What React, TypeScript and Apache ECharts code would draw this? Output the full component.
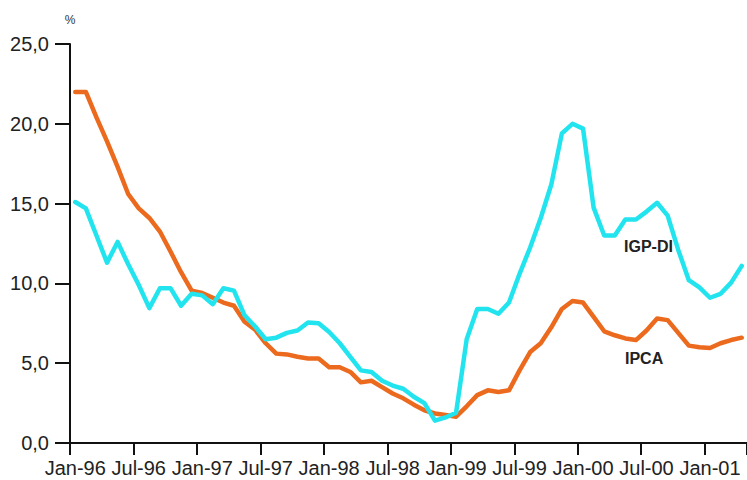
import React, { useEffect, useRef } from 'react';
import * as echarts from 'echarts';

const MONTHS = ['Jan', 'Feb', 'Mar', 'Apr', 'May', 'Jun', 'Jul', 'Aug', 'Sep', 'Oct', 'Nov', 'Dec'];
const YEARS = ['96', '97', '98', '99', '00', '01'];
const N_MONTHS = 64;

const categories: string[] = [];
YEARS.forEach((y) => MONTHS.forEach((m) => categories.push(`${m}-${y}`)));
const CATEGORIES = categories.slice(0, N_MONTHS);

const IPCA = [
  22.0, 22.0, 20.4, 18.9, 17.3, 15.6, 14.7, 14.1, 13.25, 12.0,
  10.7, 9.55, 9.4, 9.1, 8.8, 8.6, 7.6, 7.1, 6.25, 5.6,
  5.55, 5.4, 5.3, 5.3, 4.75, 4.75, 4.45, 3.8, 3.9, 3.5,
  3.1, 2.8, 2.4, 2.05, 1.85, 1.75, 1.65, 2.3, 3.0, 3.3,
  3.2, 3.3, 4.55, 5.7, 6.25, 7.25, 8.4, 8.9, 8.8, 7.9,
  7.0, 6.75, 6.55, 6.45, 7.05, 7.8, 7.7, 6.9, 6.1, 6.0,
  5.95, 6.25, 6.45, 6.6,
];

const IGPDI = [
  15.1, 14.7, 13.0, 11.3, 12.6, 11.2, 9.9, 8.45, 9.7, 9.7,
  8.6, 9.35, 9.25, 8.7, 9.7, 9.55, 8.0, 7.3, 6.5, 6.6,
  6.9, 7.05, 7.55, 7.5, 6.95, 6.25, 5.4, 4.55, 4.45, 3.9,
  3.6, 3.4, 2.9, 2.5, 1.4, 1.6, 1.9, 6.5, 8.4, 8.4,
  8.1, 8.8, 10.6, 12.25, 14.1, 16.2, 19.4, 20.0, 19.7, 14.75,
  13.0, 13.0, 14.0, 14.0, 14.5, 15.05, 14.25, 12.1, 10.2, 9.75,
  9.1, 9.35, 10.05, 11.1,
];

const Y_MIN = 0;
const Y_MAX = 25;
const Y_STEP = 5;

const FONT = '"Liberation Sans", Arial, Helvetica, sans-serif';
const AXIS_COLOR = '#111';
const TEXT_COLOR = '#222';

export default function App() {
  const ref = useRef<HTMLDivElement>(null);

  useEffect(() => {
    if (!ref.current) return;
    const chart = echarts.init(ref.current, null, { renderer: 'svg' });
    chart.setOption({
      animation: false,
      backgroundColor: '#fff',
      textStyle: { fontFamily: FONT },
      grid: { left: 70, top: 44, width: 683, height: 399 },
      xAxis: {
        type: 'category',
        data: CATEGORIES,
        boundaryGap: true,
        axisLine: { show: true, lineStyle: { color: AXIS_COLOR, width: 2 } },
        axisTick: { show: true, interval: 5, length: 12, lineStyle: { color: AXIS_COLOR, width: 2 } },
        axisLabel: { interval: 5, fontSize: 20, color: TEXT_COLOR, margin: 15, fontFamily: FONT },
        splitLine: { show: false },
      },
      yAxis: {
        type: 'value',
        min: Y_MIN,
        max: Y_MAX,
        interval: Y_STEP,
        name: '%',
        nameLocation: 'end',
        nameGap: 18,
        nameTextStyle: { fontSize: 12, color: '#333', fontFamily: FONT, align: 'center' },
        axisLine: { show: true, lineStyle: { color: AXIS_COLOR, width: 2 } },
        axisTick: { show: true, length: 15, lineStyle: { color: AXIS_COLOR, width: 2 } },
        axisLabel: {
          fontSize: 20,
          color: TEXT_COLOR,
          margin: 21,
          fontFamily: FONT,
          formatter: (v: number) => v.toFixed(1).replace('.', ','),
        },
        splitLine: { show: false },
      },
      graphic: [
        {
          type: 'text',
          left: 624,
          top: 238,
          style: { text: 'IGP-DI', fontSize: 16, fontWeight: 'bold', fill: '#222', fontFamily: FONT },
        },
        {
          type: 'text',
          left: 625,
          top: 350,
          style: { text: 'IPCA', fontSize: 16, fontWeight: 'bold', fill: '#222', fontFamily: FONT },
        },
      ],
      series: [
        {
          name: 'IPCA',
          type: 'line',
          data: IPCA,
          symbol: 'none',
          lineStyle: { color: '#EC6A1E', width: 4.5, cap: 'round', join: 'round' },
          z: 2,
        },
        {
          name: 'IGP-DI',
          type: 'line',
          data: IGPDI,
          symbol: 'none',
          lineStyle: { color: '#22E4EE', width: 4.5, cap: 'round', join: 'round' },
          z: 3,
        },
      ],
    });
    return () => chart.dispose();
  }, []);

  return (
    <div
      ref={ref}
      style={{ position: 'absolute', left: 0, top: 0, width: 747, height: 480 }}
    />
  );
}
